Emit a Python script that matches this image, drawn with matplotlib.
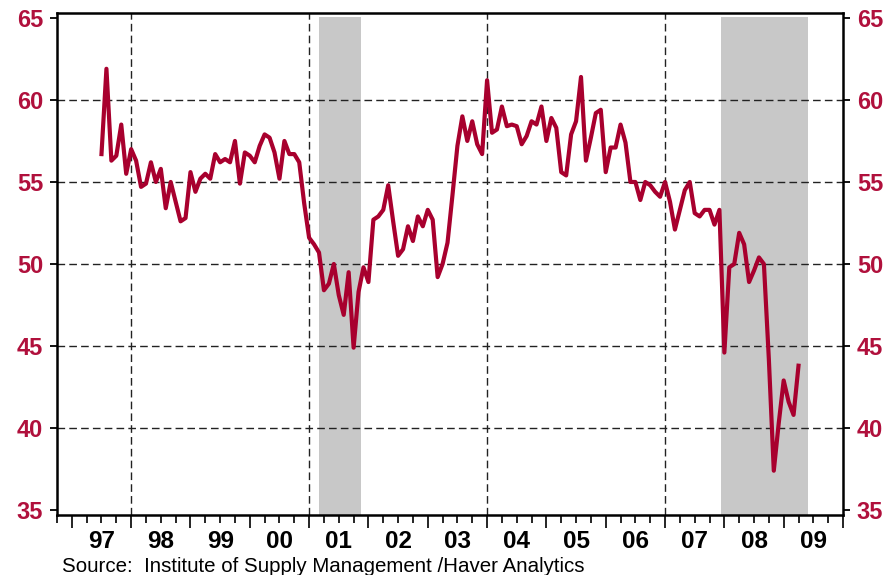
import numpy as np
import matplotlib
matplotlib.use("Agg")
import matplotlib.pyplot as plt
from matplotlib.transforms import blended_transform_factory

plt.rcParams['font.family'] = ['Liberation Sans', 'DejaVu Sans']
plt.rcParams['font.weight'] = 'bold'

# monthly index, Jul 1997 .. Apr 2009
v1997 = [56.7, 61.9, 56.3, 56.6, 58.5, 55.5]
v1998 = [57.0, 56.3, 54.7, 54.9, 56.2, 55.0, 55.8, 53.4, 55.0, 53.8, 52.6, 52.8]
v1999 = [55.6, 54.4, 55.2, 55.5, 55.2, 56.7, 56.2, 56.4, 56.2, 57.5, 54.9, 56.8]
v2000 = [56.6, 56.2, 57.2, 57.9, 57.7, 56.8, 55.2, 57.5, 56.7, 56.7, 56.2, 53.7]
v2001 = [51.6, 51.2, 50.7, 48.4, 48.8, 50.0, 48.1, 46.9, 49.5, 44.9, 48.3, 49.8]
v2002 = [48.9, 52.7, 52.9, 53.3, 54.8, 52.6, 50.5, 50.9, 52.3, 51.4, 52.9, 52.3]
v2003 = [53.3, 52.7, 49.2, 50.0, 51.3, 54.2, 57.2, 59.0, 57.5, 58.7, 57.3, 56.7]
v2004 = [61.2, 58.0, 58.2, 59.6, 58.4, 58.5, 58.4, 57.3, 57.8, 58.7, 58.5, 59.6]
v2005 = [57.5, 58.9, 58.3, 55.6, 55.4, 57.9, 58.7, 61.4, 56.3, 57.7, 59.2, 59.4]
v2006 = [55.6, 57.1, 57.1, 58.5, 57.4, 55.0, 55.0, 53.9, 55.0, 54.8, 54.4, 54.1]
v2007 = [55.0, 53.8, 52.1, 53.3, 54.5, 55.0, 53.1, 52.9, 53.3, 53.3, 52.4, 53.3]
v2008 = [44.6, 49.8, 50.0, 51.9, 51.2, 48.9, 49.6, 50.4, 50.0, 44.2, 37.4, 40.3]
v2009 = [42.9, 41.6, 40.8, 43.8]

values = (v1997 + v1998 + v1999 + v2000 + v2001 + v2002 + v2003 + v2004
          + v2005 + v2006 + v2007 + v2008 + v2009)
dates = 1997.5 + np.arange(len(values)) / 12.0

rec_start = [2001.17, 2007.94]
rec_end = [2001.87, 2009.41]

years = list(range(1997, 2010))
year_labels = ['97', '98', '99', '00', '01', '02', '03', '04', '05', '06', '07', '08', '09']

red = '#A8002E'
lbl_red = '#B0103C'

fig = plt.figure(figsize=(8.95, 5.75), dpi=100)
ax = fig.add_axes([57 / 895, 1 - 515 / 575, (843 - 57) / 895, (515 - 13) / 575])

ymin, ymax = 34.7, 65.3
ax.set_xlim(1996.75, 2010.0)
ax.set_ylim(ymin, ymax)

for a, b in zip(rec_start, rec_end):
    ax.axvspan(a, b, ymin=0, ymax=(65.05 - ymin) / (ymax - ymin),
               color='#c8c8c8', lw=0, zorder=0)

for yv in [40, 45, 50, 55, 60]:
    ax.axhline(yv, color='#222222', lw=1.0, dashes=(5.5, 3), zorder=1)
for xv in [1998, 2001, 2004, 2007]:
    ax.axvline(xv, color='#222222', lw=1.0, dashes=(5.5, 3), zorder=1)

ax.plot(dates, values, color=red, lw=3.0, zorder=3)

# y axis on both sides
ax.set_yticks([35, 40, 45, 50, 55, 60, 65])
ax.tick_params(axis='y', left=True, right=True, labelleft=True, labelright=True,
               direction='out', length=5, width=1.3, labelsize=17,
               labelcolor=lbl_red, pad=5)

# x axis: yearly and quarterly ticks, labels mid-year
ax.set_xticks(np.arange(1997, 2011))
ax.set_xticklabels([])
ax.set_xticks(np.arange(1996.75, 2010.01, 0.25), minor=True)
ax.tick_params(axis='x', which='major', direction='out', length=9, width=1.2)
ax.tick_params(axis='x', which='minor', direction='out', length=5.5, width=1.2)

trans = blended_transform_factory(ax.transData, ax.transAxes)
for yr, lab in zip(years, year_labels):
    ax.text(yr + 0.5, -0.052, lab, transform=trans, ha='center', va='center',
            fontsize=17.5, fontweight='bold', color='black')

for s in ax.spines.values():
    s.set_linewidth(1.8)
    s.set_color('black')

fig.text(62 / 895, 1 - 566 / 575, "Source:  Institute of Supply Management /Haver Analytics",
         fontsize=14.8, fontweight='normal', va='center', ha='left')

fig.savefig('out.png', dpi=100)
